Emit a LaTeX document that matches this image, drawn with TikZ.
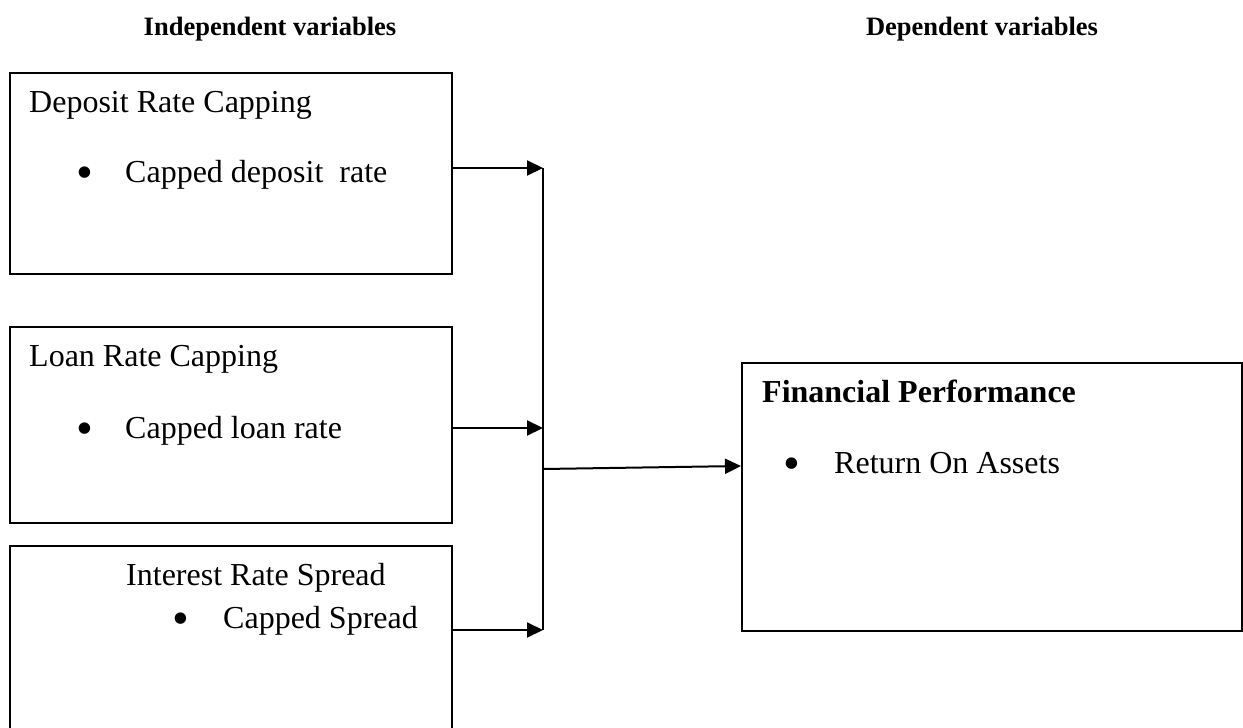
\documentclass[tikz,border=0pt]{standalone}
\usepackage{fontspec}
\setmainfont{Liberation Serif}
\usetikzlibrary{arrows.meta}
\begin{document}
\begin{tikzpicture}[x=1pt,y=-1pt,
 box/.style={draw, line width=1.5pt, rectangle, inner sep=0pt, anchor=north west},
 lbl/.style={anchor=base west, inner sep=0pt, font=\fontsize{32}{38}\selectfont},
 boldlbl/.style={lbl, font=\fontsize{32}{38}\selectfont\bfseries},
 dot/.style={anchor=base west, inner sep=0pt, font=\fontsize{48}{50}\selectfont},
 head/.style={anchor=base, inner sep=0pt, font=\fontsize{26.5}{32}\selectfont\bfseries},
 arr/.style={line width=2pt, -{Triangle[length=16pt,width=15pt]}},
 conn/.style={line width=2pt}]
\useasboundingbox (0,0) rectangle (1243,728);
\fill[white] (0,0) rectangle (1243,728);
% headings
\node[head] (h1) at (270,35) {Independent variables};
\node[head] (h2) at (982,35) {Dependent variables};
% boxes
\node[box, minimum width=442pt, minimum height=201pt] (b1) at (9,72) {};
\node[box, minimum width=442pt, minimum height=196pt] (b2) at (9,326) {};
\node[box, minimum width=442pt, minimum height=195pt] (b3) at (9,545) {};
\node[box, minimum width=500pt, minimum height=268pt] (b4) at (741,362) {};
% texts
\node[lbl] (t1) at (29,112) {Deposit Rate Capping};
\node[dot] (d1) at (76.6,188) {•};
\node[lbl] (s1) at (125,182) {Capped deposit\ \ rate};
\node[lbl] (t2) at (29,366) {Loan Rate Capping};
\node[dot] (d2) at (76.6,444) {•};
\node[lbl] (s2) at (125,438) {Capped loan rate};
\node[lbl] (t3) at (126,585) {Interest Rate Spread};
\node[dot] (d3) at (172.6,634) {•};
\node[lbl] (s3) at (223,628) {Capped Spread};
\node[boldlbl] (t4) at (762,402) {Financial Performance};
\node[dot] (d4) at (783.6,479) {•};
\node[lbl] (s4) at (834,473) {Return On Assets};
% connectors
\coordinate (j1) at (543,168);
\coordinate (j2) at (543,428);
\coordinate (j3) at (543,630);
\coordinate (jm) at (543,469);
\coordinate (e4) at (741,466);
\draw[conn] (j1) -- (j3);
\draw[arr] (b1.east |- j1) -- (j1);
\draw[arr] (b2.east |- j2) -- (j2);
\draw[arr] (b3.east |- j3) -- (j3);
\draw[arr] (jm) -- (e4);
\end{tikzpicture}
\end{document}
